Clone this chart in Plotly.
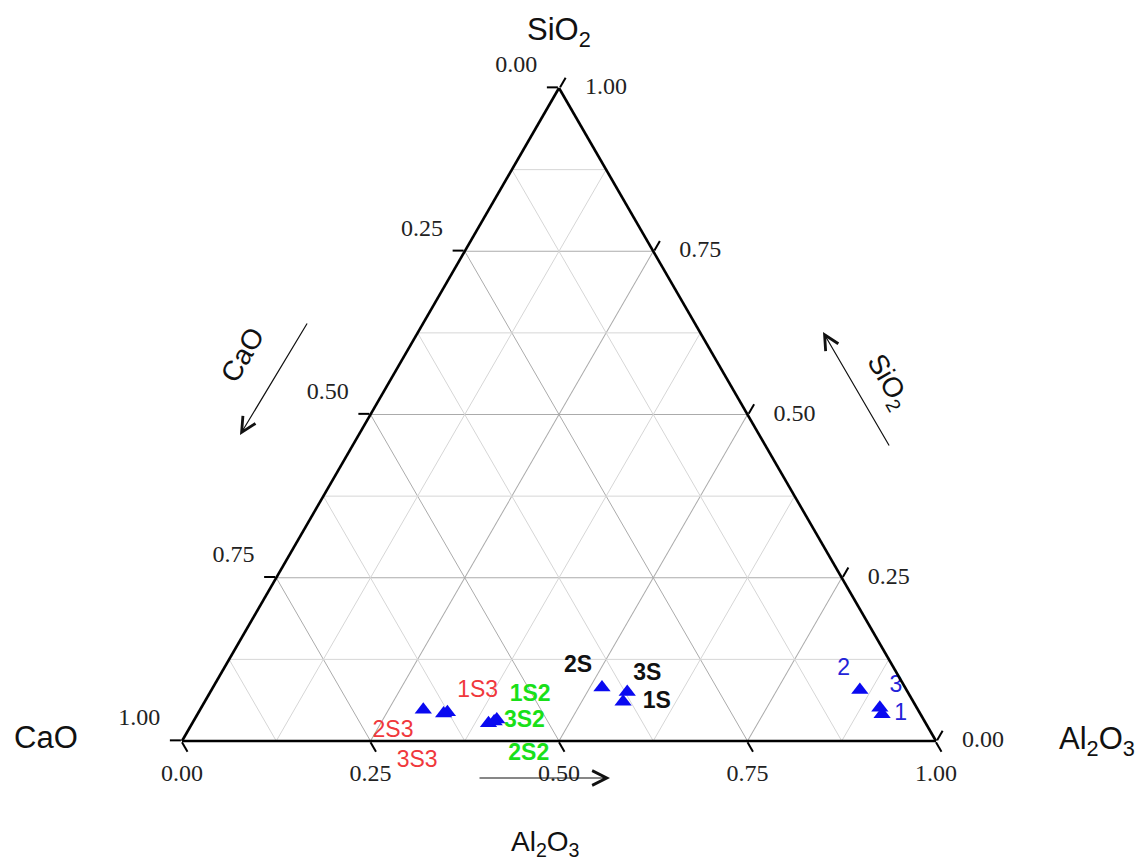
import plotly.graph_objects as go

# ---------------- data (fractions) ----------------
# group: blue numbered samples
blue_labels = ["1", "2", "3"]
blue_sio2 = [0.041, 0.078, 0.051]
blue_cao = [0.051, 0.062, 0.049]
blue_al2o3 = [0.908, 0.860, 0.900]

# group: black "S" samples
black_labels = ["1S", "2S", "3S"]
black_sio2 = [0.060, 0.082, 0.075]
black_cao = [0.385, 0.402, 0.372]
black_al2o3 = [0.555, 0.516, 0.553]

# group: green "S2" samples
green_labels = ["1S2", "2S2", "3S2"]
green_sio2 = [0.033, 0.027, 0.030]
green_cao = [0.566, 0.580, 0.571]
green_al2o3 = [0.401, 0.393, 0.399]

# group: red "S3" samples
red_labels = ["1S3", "2S3", "3S3"]
red_sio2 = [0.044, 0.048, 0.042]
red_cao = [0.626, 0.656, 0.632]
red_al2o3 = [0.330, 0.296, 0.326]

major_ticks = [0.0, 0.25, 0.5, 0.75, 1.0]
minor_levels = [0.125, 0.375, 0.625, 0.875]

# ---------------- styles ----------------
W, H = 1138, 865
SERIF = "Liberation Serif"
SANS = "Liberation Sans"
MARKER_BLUE = "#0a0af0"
TICK_FONT = dict(family=SERIF, size=24, color="#222222")
NB = "\u00a0"

fig = go.Figure()

# minor grid lines (lighter)
ga, gb, gc = [], [], []
for v in minor_levels:
    ga += [v, v, None]; gb += [1 - v, 0, None]; gc += [0, 1 - v, None]
    ga += [1 - v, 0, None]; gb += [v, v, None]; gc += [0, 1 - v, None]
    ga += [1 - v, 0, None]; gb += [0, 1 - v, None]; gc += [v, v, None]
fig.add_trace(go.Scatterternary(
    a=ga, b=gb, c=gc, mode="lines",
    line=dict(color="#d6d6d6", width=1), hoverinfo="skip", connectgaps=False))

def label_trace(a, b, c, texts, positions, gaps, font):
    # gaps: size of a fully transparent marker, used only to offset the text from the point
    return go.Scatterternary(
        a=a, b=b, c=c, mode="markers+text", text=texts,
        textposition=positions,
        marker=dict(size=gaps, color="white", opacity=0, symbol="circle",
                    line=dict(width=0)),
        textfont=font, cliponaxis=False, hoverinfo="skip")

def sans(color, bold):
    return dict(family=SANS, size=23, color=color, weight="bold" if bold else "normal")

fig.add_trace(label_trace(blue_sio2, blue_cao, blue_al2o3, blue_labels,
                          ["middle right", "top left", "top right"], [18, 14, 14],
                          sans("#2323d8", False)))
fig.add_trace(label_trace(black_sio2, black_cao, black_al2o3, black_labels,
                          ["middle right", "top left", "top right"], [30, 14, 8],
                          sans("#111111", True)))
fig.add_trace(label_trace(green_sio2, green_cao, green_al2o3, green_labels,
                          ["top right", "bottom right", "middle right"], [19, 30, 14],
                          sans("#19e019", True)))
fig.add_trace(label_trace(red_sio2, red_cao, red_al2o3,
                          [red_labels[0], red_labels[1], "<br>" + red_labels[2]],
                          ["top right", "bottom left", "bottom left"], [14, 14, 8],
                          sans("#f0383c", False)))

n = len(major_ticks)
# tick labels: left edge (CaO), bottom edge (Al2O3), right edge (SiO2)
fig.add_trace(label_trace([1 - v for v in major_ticks], major_ticks, [0] * n,
                          [f"{v:.2f}{NB}{NB}" for v in major_ticks], "top left",
                          14, TICK_FONT))
fig.add_trace(label_trace([0] * n, [1 - v for v in major_ticks], major_ticks,
                          [f"{v:.2f}" for v in major_ticks], "bottom center",
                          34, TICK_FONT))
fig.add_trace(label_trace(major_ticks, [0] * n, [1 - v for v in major_ticks],
                          [f"{v:.2f}" for v in major_ticks], "middle right",
                          40, TICK_FONT))

# sample markers (on top)
all_a = blue_sio2 + black_sio2 + green_sio2 + red_sio2
all_b = blue_cao + black_cao + green_cao + red_cao
all_c = blue_al2o3 + black_al2o3 + green_al2o3 + red_al2o3
fig.add_trace(go.Scatterternary(
    a=all_a, b=all_b, c=all_c, mode="markers",
    marker=dict(symbol="triangle-up", size=15, color=MARKER_BLUE, line=dict(width=0)),
    cliponaxis=False))

axis_common = dict(
    title=dict(text=""),
    tickvals=major_ticks, showticklabels=False,
    ticks="outside", ticklen=11, tickwidth=2, tickcolor="black",
    showline=True, linecolor="black", linewidth=2.6,
    showgrid=True, gridcolor="#ababab", gridwidth=1,
    min=0,
)

base_px = 754.0
left_px = 559 - base_px / 2
right_px = 559 + base_px / 2
bottom_px = 741.0
top_px = bottom_px - base_px * 3 ** 0.5 / 2

fig.update_layout(
    width=W, height=H,
    margin=dict(l=0, r=0, t=0, b=0),
    paper_bgcolor="white",
    showlegend=False,
    ternary=dict(
        sum=1,
        bgcolor="white",
        domain=dict(x=[left_px / W, right_px / W],
                    y=[1 - bottom_px / H, 1 - top_px / H]),
        aaxis=axis_common,
        baxis=axis_common,
        caxis=axis_common,
    ),
)

def px(x, y):
    return x / W, 1 - y / H

annots = []
for text, (x, y) in [("SiO<sub>2</sub>", (559, 32)), ("CaO", (46, 737)),
                     ("Al<sub>2</sub>O<sub>3</sub>", (1097, 741))]:
    xx, yy = px(x, y)
    annots.append(dict(x=xx, y=yy, xref="paper", yref="paper", text=text,
                       xanchor="center", yanchor="middle",
                       showarrow=False, font=dict(family=SANS, size=31, color="#111")))

for (hx, hy, dx, dy) in [(240, 435, 68, -113), (610, 778, -132, 0), (823, 332, 67, 115)]:
    xx, yy = px(hx, hy)
    annots.append(dict(x=xx, y=yy, xref="paper", yref="paper", text="",
                       showarrow=True, ax=dx, ay=dy, arrowhead=5, arrowsize=2.4,
                       arrowwidth=1.2, arrowcolor="#111", standoff=0, startstandoff=0))

for text, (x, y), ang in [("CaO", (243, 355), -60), ("SiO<sub>2</sub>", (888, 382), 60),
                          ("Al<sub>2</sub>O<sub>3</sub>", (545, 843), 0)]:
    xx, yy = px(x, y)
    annots.append(dict(x=xx, y=yy, xref="paper", yref="paper", text=text,
                       xanchor="center", yanchor="middle",
                       showarrow=False, textangle=ang,
                       font=dict(family=SANS, size=28, color="#111")))

fig.update_layout(annotations=annots)
fig.write_html("out.html")
